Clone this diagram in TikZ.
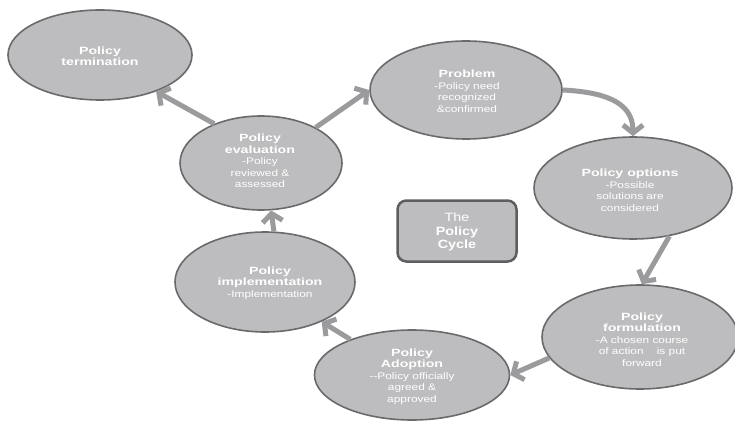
\documentclass[tikz,border=0pt]{standalone}
\usepackage{fontspec}
\setmainfont{Liberation Sans}
\newfontfamily\ttlf[FakeStretch=1.35]{Liberation Sans}
\newfontfamily\bdyf[FakeStretch=1.25]{Liberation Sans}
\newfontfamily\boxf[FakeStretch=1.2]{Liberation Sans}
\usetikzlibrary{shapes.geometric,arrows.meta}
\definecolor{ellfill}{HTML}{BDBDBF}
\definecolor{bord}{HTML}{6A6A6C}
\definecolor{arrc}{HTML}{9B9B9D}
\definecolor{boxb}{HTML}{5E5E60}
\newcommand\ttl[1]{{\fontsize{10.5}{11.5}\selectfont\ttlf\bfseries #1}}
\tikzset{
  ell/.style={ellipse, draw=bord, line width=1.6pt, fill=ellfill, inner sep=0pt},
  txt/.style={text=white, align=center, inner sep=0pt, font=\fontsize{9.5}{11.5}\selectfont\bdyf},
  arr/.style={draw=arrc, line width=5pt, -{Straight Barb[length=8pt,width=20pt]}},
  cycbox/.style={draw=boxb, line width=2.5pt, fill=ellfill, rounded corners=9pt,
    minimum width=119pt, minimum height=61pt, inner sep=0pt},
}
\begin{document}
\begin{tikzpicture}[x=1pt,y=-1pt]
\useasboundingbox[fill=white] (0,0) rectangle (735,422);
% ellipses
\node[ell, minimum width=184, minimum height=90] (term) at (100,55) {};
\node[ell, minimum width=162, minimum height=94] (eval) at (261,163) {};
\node[ell, minimum width=192, minimum height=98] (prob) at (466,90) {};
\node[ell, minimum width=198, minimum height=102] (opt) at (633,188) {};
\node[ell, minimum width=180, minimum height=100] (impl) at (265,282) {};
\node[ell, minimum width=195, minimum height=90] (adopt) at (412,375) {};
\node[ell, minimum width=196, minimum height=104] (form) at (640,337) {};
\node[cycbox] (cyc) at (457,231) {};
% texts
\node[txt] (termt) at (100,56) {\ttl{Policy}\\\ttl{termination}};
\node[txt] (evalt) at (260,161) {\ttl{Policy}\\\ttl{evaluation}\\-Policy\\reviewed \&\\assessed};
\node[txt] (probt) at (467,91) {\ttl{Problem}\\-Policy need\\recognized\\\&confirmed};
\node[txt] (optt) at (630,190) {\ttl{Policy options}\\-Possible\\solutions are\\considered};
\node[txt] (implt) at (270,283) {\ttl{Policy}\\\ttl{implementation}\\-Implementation};
\node[txt] (adoptt) at (412,376.5) {\ttl{Policy}\\\ttl{Adoption}\\--Policy officially\\agreed \&\\approved};
\node[txt] (formt) at (642,339.5) {\ttl{Policy}\\\ttl{formulation}\\-A chosen course\\of action\ \ \ \ is put\\forward};
\node[text=white, align=center, inner sep=0pt, font=\fontsize{12}{13.5}\selectfont\boxf] (cyct) at (457,232)
  {The\\\textbf{Policy}\\\textbf{Cycle}};
% arrows
\draw[arr] (eval.140) -- (term.-33);
\draw[arr] (eval.33) -- (prob.west);
\draw[arr] (prob.east) .. controls (600,92) and (633,100) .. (opt.north);
\draw[arr] (opt.-53) -- (form.88);
\draw[arr] (form.193) -- (adopt.east);
\draw[arr] (adopt.150) -- (impl.-35);
\draw[arr] (impl.80) -- (eval.-78);
\end{tikzpicture}
\end{document}
